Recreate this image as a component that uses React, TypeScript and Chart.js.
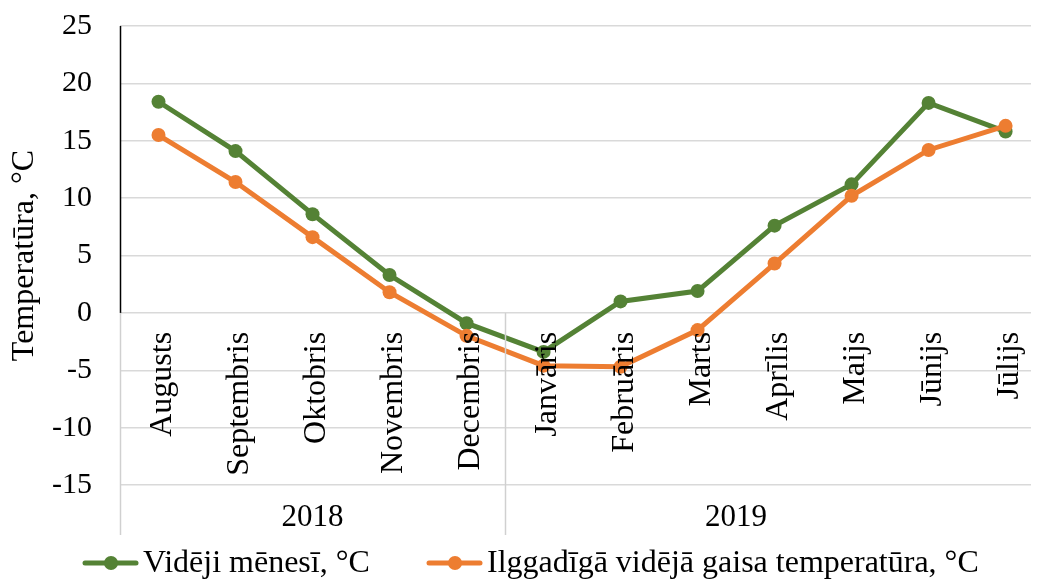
import React, { useEffect, useRef } from 'react';
import { Chart, registerables } from 'chart.js';

Chart.register(...registerables);

const categories = ['Augusts', 'Septembris', 'Oktobris', 'Novembris', 'Decembris', 'Janvāris', 'Februāris', 'Marts', 'Aprīlis', 'Maijs', 'Jūnijs', 'Jūlijs'];
const monthlyMean = [18.4, 14.1, 8.6, 3.3, -0.9, -3.4, 1.0, 1.9, 7.6, 11.2, 18.3, 15.8];
const longTermMean = [15.5, 11.4, 6.6, 1.8, -2.0, -4.6, -4.7, -1.5, 4.3, 10.2, 14.2, 16.3];
const years = ['2018', '2019'];
const yearStart = [0, 5];
const yearEnd = [4, 10];
const yearBoundaries = [-0.5, 4.5];
const seriesLabels = ['Vidēji mēnesī, °C', 'Ilggadīgā vidējā gaisa temperatūra, °C'];
const seriesColors = ['#548235', '#ED7D31'];
const yTitle = 'Temperatūra, °C';
const yMin = -15;
const yMax = 25;
const yStep = 5;

const FONT = '"Liberation Serif", "Times New Roman", serif';

const overlayPlugin = {
  id: 'overlay',
  afterDatasetsDraw(chart: any) {
    const { ctx, scales } = chart;
    const xs = scales.x;
    const ys = scales.y;
    const y0 = ys.getPixelForValue(0);
    ctx.save();
    ctx.fillStyle = '#000';
    ctx.font = `32px ${FONT}`;
    ctx.textAlign = 'right';
    ctx.textBaseline = 'middle';
    categories.forEach((c, i) => {
      const x = xs.getPixelForValue(i);
      ctx.save();
      ctx.translate(x + 4, y0 + 19);
      ctx.rotate(-Math.PI / 2);
      ctx.fillText(c, 0, 0);
      ctx.restore();
    });
    ctx.restore();
  },
  afterDraw(chart: any) {
    const { ctx, scales, chartArea } = chart;
    const xs = scales.x;
    const ys = scales.y;
    const y0 = ys.getPixelForValue(0);
    const bottomLine = ys.getPixelForValue(yMin) + 50;
    ctx.save();
    // value axis line (above zero)
    ctx.strokeStyle = '#000';
    ctx.lineWidth = 1.5;
    ctx.beginPath();
    ctx.moveTo(chartArea.left + 0.5, chartArea.top);
    ctx.lineTo(chartArea.left + 0.5, y0);
    ctx.stroke();
    // category axis group boundaries
    ctx.strokeStyle = '#d0d0d0';
    ctx.lineWidth = 1.5;
    yearBoundaries.forEach((b) => {
      const x = xs.getPixelForValue(b);
      ctx.beginPath();
      ctx.moveTo(Math.round(x) + 0.5, y0);
      ctx.lineTo(Math.round(x) + 0.5, bottomLine);
      ctx.stroke();
    });
    // year labels
    ctx.fillStyle = '#000';
    ctx.font = `31px ${FONT}`;
    ctx.textAlign = 'center';
    ctx.textBaseline = 'middle';
    years.forEach((yl, i) => {
      const x = (xs.getPixelForValue(yearStart[i] - 0.5) + xs.getPixelForValue(yearEnd[i] + 0.5)) / 2;
      ctx.fillText(yl, x, ys.getPixelForValue(yMin) + 33);
    });
    // legend
    const ly = 563;
    const legendX = [83, 427];
    ctx.font = `32px ${FONT}`;
    ctx.textAlign = 'left';
    seriesLabels.forEach((lab, i) => {
      const x = legendX[i];
      ctx.strokeStyle = seriesColors[i];
      ctx.fillStyle = seriesColors[i];
      ctx.lineWidth = 5;
      ctx.lineCap = 'round';
      ctx.beginPath();
      ctx.moveTo(x + 2, ly);
      ctx.lineTo(x + 53, ly);
      ctx.stroke();
      ctx.beginPath();
      ctx.arc(x + 28, ly, 7, 0, Math.PI * 2);
      ctx.fill();
      ctx.fillStyle = '#000';
      ctx.fillText(lab, x + 60, ly + 1);
    });
    ctx.restore();
  },
};

export default function App() {
  const ref = useRef<HTMLCanvasElement | null>(null);
  useEffect(() => {
    if (!ref.current) return;
    const spacing = 77.6;
    const left = 120;
    const width = 1038;
    const xMax = -0.5 + (width - left) / spacing;
    const chart = new Chart(ref.current, {
      type: 'line',
      data: {
        datasets: [
          {
            label: seriesLabels[0],
            data: monthlyMean.map((v, i) => ({ x: i, y: v })),
            borderColor: seriesColors[0],
            backgroundColor: seriesColors[0],
            pointBackgroundColor: seriesColors[0],
            pointBorderColor: seriesColors[0],
            borderWidth: 5,
            pointRadius: 7,
            pointBorderWidth: 0,
            tension: 0,
            order: 1,
          },
          {
            label: seriesLabels[1],
            data: longTermMean.map((v, i) => ({ x: i, y: v })),
            borderColor: seriesColors[1],
            backgroundColor: seriesColors[1],
            pointBackgroundColor: seriesColors[1],
            pointBorderColor: seriesColors[1],
            borderWidth: 5,
            pointRadius: 7,
            pointBorderWidth: 0,
            tension: 0,
            order: 0,
          },
        ],
      },
      options: {
        animation: false,
        responsive: false,
        maintainAspectRatio: false,
        devicePixelRatio: 1,
        layout: { padding: { top: 26, bottom: 100, left: 0, right: 0 } },
        plugins: { legend: { display: false }, tooltip: { enabled: false } },
        scales: {
          x: {
            type: 'linear',
            min: -0.5,
            max: xMax,
            display: false,
          },
          y: {
            min: yMin,
            max: yMax,
            ticks: {
              stepSize: yStep,
              padding: 0,
              color: '#000',
              font: { family: FONT, size: 30 },
            },
            grid: {
              color: '#d9d9d9',
              lineWidth: 1.5,
              drawTicks: true,
              tickLength: 28,
              tickColor: 'rgba(0,0,0,0)',
            },
            border: { display: false },
            title: {
              display: true,
              text: yTitle,
              color: '#000',
              font: { family: FONT, size: 32 },
              padding: { top: 5, bottom: 0 },
            },
            afterFit(scale: any) {
              scale.width = left;
            },
          },
        },
      },
      plugins: [overlayPlugin],
    } as any);
    return () => chart.destroy();
  }, []);
  return (
    <div style={{ position: 'absolute', left: 0, top: 0, width: 1038, height: 585, background: '#fff' }}>
      <canvas ref={ref} width={1038} height={585} style={{ width: 1038, height: 585, display: 'block' }} />
    </div>
  );
}
